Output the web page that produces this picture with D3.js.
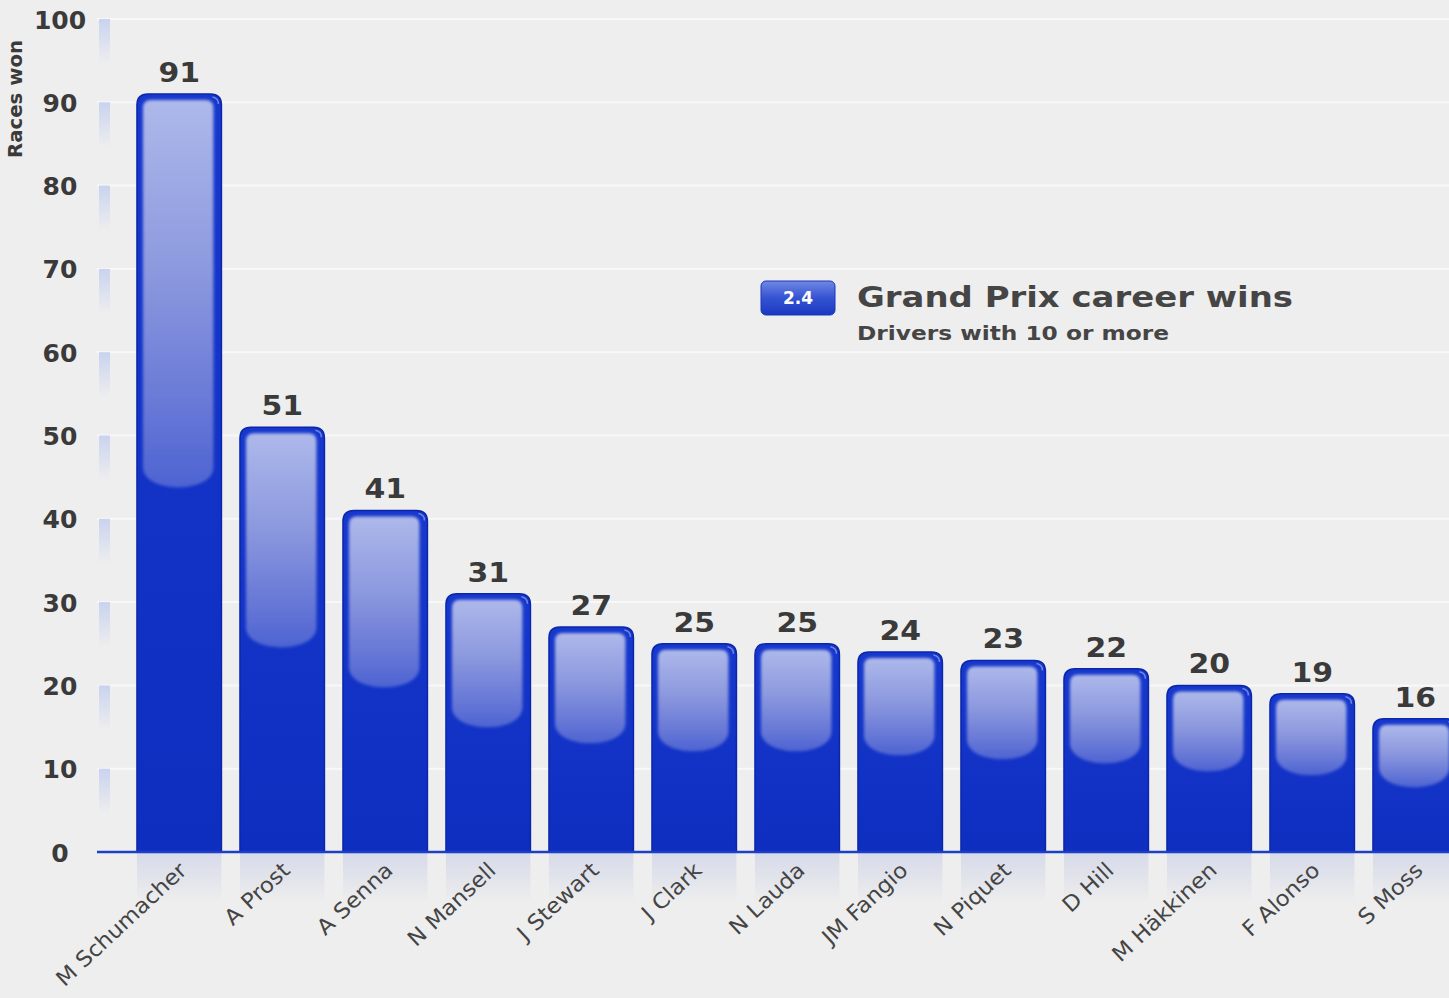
<!DOCTYPE html>
<html>
<head>
<meta charset="utf-8">
<script src="https://cdn.jsdelivr.net/npm/d3@7"></script>
<style>
  html, body { margin: 0; padding: 0; background: #eeeeee; overflow: hidden; }
  svg { display: block; }
</style>
</head>
<body>
<svg id="chart" width="1449" height="998"></svg>
<script>
// ---- data ----
const drivers = ["M Schumacher", "A Prost", "A Senna", "N Mansell", "J Stewart", "J Clark", "N Lauda",
                 "JM Fangio", "N Piquet", "D Hill", "M Häkkinen", "F Alonso", "S Moss"];
const wins = [91, 51, 41, 31, 27, 25, 25, 24, 23, 22, 20, 19, 16];
const yTicks = [0, 10, 20, 30, 40, 50, 60, 70, 80, 90, 100];
const titleText = "Grand Prix career wins";
const subtitleText = "Drivers with 10 or more";
const badgeText = "2.4";
const yTitle = "Races won";

const W = 1449, H = 998;
const svg = d3.select("#chart");
const FONT = "'DejaVu Sans', Verdana, sans-serif";

const x = d3.scaleBand().domain(drivers).range([127.7, 1466.7]).paddingInner(0.18).paddingOuter(0.09);
const y = d3.scaleLinear().domain([0, 100]).range([852, 19]);

const defs = svg.append("defs");
svg.append("rect").attr("width", W).attr("height", H).attr("fill", "#eeeeee");

// gradients
const base = defs.append("linearGradient").attr("id", "base").attr("x1", 0).attr("y1", 0).attr("x2", 0).attr("y2", 1);
base.append("stop").attr("offset", 0).attr("stop-color", "#1738cc");
base.append("stop").attr("offset", 1).attr("stop-color", "#0e2ec0");

const inner = defs.append("linearGradient").attr("id", "inner").attr("x1", 0).attr("y1", 0).attr("x2", 0).attr("y2", 1);
inner.append("stop").attr("offset", 0).attr("stop-color", "#adb8ea");
inner.append("stop").attr("offset", 0.45).attr("stop-color", "#8b98de");
inner.append("stop").attr("offset", 0.8).attr("stop-color", "#6677d6");
inner.append("stop").attr("offset", 1).attr("stop-color", "#4d63d2");

const refl = defs.append("linearGradient").attr("id", "refl").attr("x1", 0).attr("y1", 0).attr("x2", 0).attr("y2", 1);
refl.append("stop").attr("offset", 0).attr("stop-color", "#3a56c8").attr("stop-opacity", 0.13);
refl.append("stop").attr("offset", 1).attr("stop-color", "#3a56c8").attr("stop-opacity", 0);

const strip = defs.append("linearGradient").attr("id", "strip").attr("x1", 0).attr("y1", 0).attr("x2", 0).attr("y2", 1);
strip.append("stop").attr("offset", 0).attr("stop-color", "#c9d3ef").attr("stop-opacity", 1);
strip.append("stop").attr("offset", 1).attr("stop-color", "#c9d3ef").attr("stop-opacity", 0);

const badgeG = defs.append("linearGradient").attr("id", "badge").attr("x1", 0).attr("y1", 0).attr("x2", 0).attr("y2", 1);
badgeG.append("stop").attr("offset", 0).attr("stop-color", "#7088e4");
badgeG.append("stop").attr("offset", 0.5).attr("stop-color", "#3453d2");
badgeG.append("stop").attr("offset", 1).attr("stop-color", "#1a39c2");

const blur = defs.append("filter").attr("id", "soft").attr("x", "-10%").attr("y", "-10%").attr("width", "120%").attr("height", "120%");
blur.append("feGaussianBlur").attr("stdDeviation", 1.4);

// grid lines
svg.append("g").selectAll("line").data(yTicks.filter(d => d > 0)).join("line")
  .attr("x1", 97).attr("x2", W).attr("y1", d => y(d)).attr("y2", d => y(d))
  .attr("stroke", "#f8f8f8").attr("stroke-width", 2);

// faint axis strip segments
svg.append("g").selectAll("rect").data(yTicks.filter(d => d > 0)).join("rect")
  .attr("x", 99).attr("width", 11).attr("y", d => y(d)).attr("height", 45)
  .attr("fill", "url(#strip)");

// y-axis labels
const yAxis = d3.axisLeft(y).tickValues(yTicks).tickSize(0).tickFormat(d3.format("d"));
const yg = svg.append("g").attr("transform", "translate(60,0)").call(yAxis);
yg.select(".domain").remove();
yg.selectAll("text")
  .attr("x", 0).attr("text-anchor", "middle").attr("dy", "0.36em")
  .attr("fill", "#3a3a3a").style("font-family", FONT).style("font-size", "25px").style("font-weight", "bold");

// y title
svg.append("text").attr("transform", "translate(22,99) rotate(-90)")
  .attr("text-anchor", "middle").attr("fill", "#3a3a3a")
  .attr("textLength", 118).attr("lengthAdjust", "spacingAndGlyphs")
  .style("font-family", FONT).style("font-size", "19px").style("font-weight", "bold")
  .text(yTitle);

// reflections
svg.append("g").selectAll("rect").data(drivers).join("rect")
  .attr("x", d => x(d)).attr("width", x.bandwidth()).attr("y", 853).attr("height", 50)
  .attr("fill", "url(#refl)");

// bars
function topRounded(x0, y0, w, h, r) {
  return `M${x0},${y0 + h} L${x0},${y0 + r} Q${x0},${y0} ${x0 + r},${y0} L${x0 + w - r},${y0} Q${x0 + w},${y0} ${x0 + w},${y0 + r} L${x0 + w},${y0 + h} Z`;
}
function innerPanel(x0, y0, w, h, r) {
  const bodyEnd = Math.max(y0 + h - w * 0.38, y0 + r);
  return `M${x0},${bodyEnd} L${x0},${y0 + r} Q${x0},${y0} ${x0 + r},${y0} L${x0 + w - r},${y0} Q${x0 + w},${y0} ${x0 + w},${y0 + r} L${x0 + w},${bodyEnd} ` +
    `C${x0 + w},${y0 + h} ${x0},${y0 + h} ${x0},${bodyEnd} Z`;
}

const bars = svg.append("g").selectAll("g").data(drivers.map((d, i) => ({ name: d, v: wins[i] }))).join("g");
bars.append("path")
  .attr("d", d => topRounded(x(d.name), y(d.v), x.bandwidth(), y(0) - y(d.v), 11))
  .attr("fill", "url(#base)").attr("stroke", "#0a26ab").attr("stroke-width", 1.5);
bars.append("path")
  .attr("d", d => {
    const bh = y(0) - y(d.v);
    return innerPanel(x(d.name) + 6, y(d.v) + 6, x.bandwidth() - 14, bh * 0.52, 8);
  })
  .attr("fill", "url(#inner)").attr("filter", "url(#soft)");
// subtle top-right highlight
bars.append("path")
  .attr("d", d => {
    const x0 = x(d.name), y0 = y(d.v), w = x.bandwidth();
    return `M${x0 + w - 9},${y0 + 3} Q${x0 + w - 3},${y0 + 4} ${x0 + w - 3},${y0 + 10}`;
  })
  .attr("fill", "none").attr("stroke", "#6f86e0").attr("stroke-width", 1.5);

// value labels
bars.append("text")
  .attr("transform", d => `translate(${x(d.name) + x.bandwidth() / 2},${y(d.v) - 12}) scale(1.15,1)`)
  .attr("text-anchor", "middle").attr("fill", "#3a3a3a")
  .style("font-family", FONT).style("font-size", "26px").style("font-weight", "bold")
  .text(d => d.v);

// x axis line
svg.append("line").attr("x1", 97).attr("x2", W).attr("y1", y(0)).attr("y2", y(0))
  .attr("stroke", "#1c3fc6").attr("stroke-width", 2.5);

// x labels
const xAxis = d3.axisBottom(x).tickSize(0);
const xg = svg.append("g").attr("transform", `translate(0,${y(0)})`).call(xAxis);
xg.select(".domain").remove();
xg.selectAll("text")
  .attr("y", 0).attr("dy", 0)
  .attr("transform", "translate(9,20) rotate(-43) scale(1.06,1)")
  .attr("text-anchor", "end").attr("fill", "#444")
  .style("font-family", FONT).style("font-size", "21.5px");

// title badge
svg.append("rect").attr("x", 761).attr("y", 281).attr("width", 74).attr("height", 34).attr("rx", 5)
  .attr("fill", "url(#badge)").attr("stroke", "#1a37b8").attr("stroke-width", 1);
svg.append("text").attr("x", 798).attr("y", 304).attr("text-anchor", "middle").attr("fill", "#ffffff")
  .style("font-family", FONT).style("font-size", "17px").style("font-weight", "bold").text(badgeText);
svg.append("text").attr("x", 857).attr("y", 307).attr("fill", "#454545")
  .attr("textLength", 436).attr("lengthAdjust", "spacingAndGlyphs")
  .style("font-family", FONT).style("font-size", "28px").style("font-weight", "bold").text(titleText);
svg.append("text").attr("x", 857).attr("y", 340).attr("fill", "#454545")
  .attr("textLength", 312).attr("lengthAdjust", "spacingAndGlyphs")
  .style("font-family", FONT).style("font-size", "19.5px").style("font-weight", "bold").text(subtitleText);
</script>
</body>
</html>
